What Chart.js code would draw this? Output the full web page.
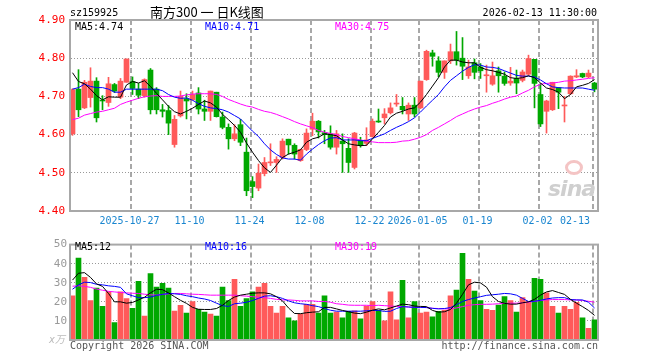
<!DOCTYPE html>
<html lang="zh-CN">
<head>
<meta charset="UTF-8">
<title>南方300 日K线图</title>
<script src="https://cdn.jsdelivr.net/npm/chart.js@4.4.1/dist/chart.umd.min.js"></script>
<style>
  * { margin: 0; padding: 0; }
  body { width: 660px; height: 360px; background: #fff; position: relative; overflow: hidden; font-family: 'DejaVu Sans Mono', monospace; }
  canvas { position: absolute; left: 0; }
  .t { position: absolute; font-size: 10px; line-height: 12px; white-space: nowrap; }
  .logo { position: absolute; left: 548px; top: 176px; font: italic bold 22px 'DejaVu Sans', sans-serif; color: #cfcfcf; letter-spacing: -1px; }
  .eye { position: absolute; left: 565px; top: 160px; width: 12px; height: 9px; border: 3px solid #f4c4c4; border-radius: 50%; }
</style>
</head>
<body>
<canvas id="kline" width="660" height="235" style="top:0"></canvas>
<canvas id="vol" width="660" height="125" style="top:235px"></canvas>

<div class="t" style="left:70px;top:7px;">sz159925</div>
<div class="t" style="left:150px;top:5px;font:13px/14px 'Noto Sans CJK SC',sans-serif;">南方300 一 日K线图</div>
<div class="t" style="right:63px;top:7px;">2026-02-13 11:30:00</div>
<div class="t" style="left:75px;top:21px;color:#000;">MA5:4.74</div>
<div class="t" style="left:205px;top:21px;color:#0000ff;">MA10:4.71</div>
<div class="t" style="left:335px;top:21px;color:#ff00ff;">MA30:4.75</div>
<div class="t" style="left:75px;top:241px;color:#000;">MA5:12</div>
<div class="t" style="left:205px;top:241px;color:#0000ff;">MA10:16</div>
<div class="t" style="left:335px;top:241px;color:#ff00ff;">MA30:19</div>
<div class="t" style="left:49px;top:334px;color:#bbb;font-style:italic;">x万</div>
<div class="t" style="left:70px;top:340px;color:#555;">Copyright 2026 SINA.COM</div>
<div class="t" style="right:62px;top:340px;color:#555;">http://finance.sina.com.cn</div>
<div class="eye"></div>
<div class="logo">sina</div>

<script>
// trading days shown (2025-10-13 .. 2026-02-13)
const dates = [
  '2025-10-13','2025-10-14','2025-10-15','2025-10-16','2025-10-17','2025-10-20','2025-10-21','2025-10-22','2025-10-23','2025-10-24',
  '2025-10-27','2025-10-28','2025-10-29','2025-10-30','2025-10-31','2025-11-03','2025-11-04','2025-11-05','2025-11-06','2025-11-07',
  '2025-11-10','2025-11-11','2025-11-12','2025-11-13','2025-11-14','2025-11-17','2025-11-18','2025-11-19','2025-11-20','2025-11-21',
  '2025-11-24','2025-11-25','2025-11-26','2025-11-27','2025-11-28','2025-12-01','2025-12-02','2025-12-03','2025-12-04','2025-12-05',
  '2025-12-08','2025-12-09','2025-12-10','2025-12-11','2025-12-12','2025-12-15','2025-12-16','2025-12-17','2025-12-18','2025-12-19',
  '2025-12-22','2025-12-23','2025-12-24','2025-12-25','2025-12-26','2025-12-29','2025-12-30','2025-12-31','2026-01-05','2026-01-06',
  '2026-01-07','2026-01-08','2026-01-09','2026-01-12','2026-01-13','2026-01-14','2026-01-15','2026-01-16','2026-01-19','2026-01-20',
  '2026-01-21','2026-01-22','2026-01-23','2026-01-26','2026-01-27','2026-01-28','2026-01-29','2026-01-30','2026-02-02','2026-02-03',
  '2026-02-04','2026-02-05','2026-02-06','2026-02-09','2026-02-10','2026-02-11','2026-02-12','2026-02-13'
];

const tickDates  = ['2025-10-27','2025-11-10','2025-11-24','2025-12-08','2025-12-22','2026-01-05','2026-01-19','2026-02-02','2026-02-13'];
const tickLabels = ['2025-10-27','11-10','11-24','12-08','12-22','2026-01-05','01-19','02-02','02-13'];

const open = [
  4.602,4.719,4.670,4.697,4.740,4.690,4.684,4.731,4.698,4.737,
  4.739,4.719,4.702,4.769,4.719,4.665,4.663,4.574,4.649,4.694,
  4.691,4.709,4.667,4.661,4.711,4.646,4.619,4.589,4.626,4.554,
  4.477,4.460,4.498,4.526,4.527,4.540,4.588,4.572,4.532,4.561,
  4.614,4.635,4.605,4.602,4.567,4.583,4.564,4.514,4.584,4.577,
  4.595,4.634,4.644,4.657,4.680,4.674,4.654,4.677,4.670,4.744,
  4.814,4.793,4.763,4.793,4.817,4.800,4.754,4.788,4.777,4.754,
  4.732,4.767,4.753,4.735,4.747,4.742,4.758,4.797,4.705,4.661,
  4.665,4.723,4.675,4.707,4.751,4.760,4.751,4.735
];
const high = [
  4.720,4.770,4.742,4.775,4.749,4.702,4.750,4.734,4.747,4.798,
  4.751,4.734,4.746,4.773,4.723,4.679,4.676,4.650,4.714,4.707,
  4.714,4.723,4.690,4.714,4.711,4.659,4.628,4.626,4.640,4.591,
  4.490,4.523,4.540,4.576,4.542,4.589,4.588,4.576,4.562,4.615,
  4.656,4.637,4.611,4.623,4.611,4.602,4.589,4.606,4.593,4.618,
  4.641,4.667,4.668,4.683,4.705,4.697,4.683,4.697,4.740,4.821,
  4.821,4.804,4.793,4.837,4.870,4.854,4.795,4.798,4.786,4.782,
  4.790,4.777,4.764,4.776,4.769,4.769,4.808,4.797,4.734,4.690,
  4.737,4.723,4.700,4.754,4.770,4.761,4.769,4.737
];
const low = [
  4.598,4.647,4.668,4.672,4.633,4.665,4.674,4.710,4.694,4.737,
  4.705,4.694,4.698,4.654,4.654,4.646,4.600,4.567,4.646,4.641,
  4.690,4.654,4.637,4.637,4.646,4.615,4.562,4.584,4.571,4.440,
  4.435,4.453,4.492,4.519,4.501,4.536,4.549,4.536,4.530,4.558,
  4.597,4.591,4.576,4.562,4.549,4.501,4.501,4.510,4.567,4.571,
  4.593,4.632,4.628,4.654,4.674,4.654,4.637,4.646,4.668,4.742,
  4.779,4.751,4.747,4.786,4.782,4.744,4.747,4.746,4.747,4.711,
  4.729,4.711,4.729,4.729,4.707,4.738,4.755,4.670,4.621,4.604,
  4.663,4.668,4.633,4.705,4.749,4.749,4.749,4.712
];
const close = [
  4.718,4.665,4.737,4.740,4.644,4.688,4.733,4.714,4.740,4.798,
  4.721,4.703,4.744,4.665,4.665,4.661,4.630,4.640,4.700,4.688,
  4.705,4.667,4.661,4.714,4.647,4.619,4.589,4.602,4.580,4.453,
  4.464,4.499,4.527,4.527,4.535,4.583,4.573,4.549,4.561,4.604,
  4.635,4.607,4.600,4.567,4.602,4.576,4.527,4.604,4.571,4.586,
  4.635,4.633,4.654,4.670,4.682,4.665,4.677,4.654,4.740,4.818,
  4.805,4.763,4.793,4.817,4.795,4.779,4.777,4.763,4.767,4.756,
  4.754,4.754,4.734,4.740,4.735,4.764,4.799,4.734,4.628,4.688,
  4.737,4.711,4.676,4.753,4.754,4.751,4.761,4.719
];

// moving averages as drawn on the picture
const ma5 = [
  4.762,4.739,4.733,4.719,4.702,4.691,4.699,4.698,4.698,4.730,
  4.739,4.735,4.741,4.726,4.708,4.691,4.674,4.660,4.654,4.661,
  4.669,4.679,4.688,4.683,4.672,4.653,4.639,4.624,4.606,4.578,
  4.554,4.532,4.513,4.501,4.520,4.540,4.549,4.554,4.560,4.580,
  4.589,4.593,4.602,4.600,4.597,4.586,4.576,4.573,4.571,4.572,
  4.589,4.606,4.624,4.646,4.656,4.661,4.667,4.670,4.685,4.705,
  4.727,4.749,4.777,4.795,4.795,4.790,4.788,4.788,4.776,4.770,
  4.767,4.763,4.758,4.749,4.747,4.749,4.754,4.749,4.735,4.722,
  4.718,4.711,4.694,4.705,4.725,4.729,4.734,4.744
];
const ma10 = [
  4.719,4.723,4.732,4.726,4.723,4.723,4.719,4.711,4.711,4.719,
  4.719,4.719,4.719,4.719,4.719,4.715,4.705,4.698,4.695,4.696,
  4.690,4.681,4.674,4.670,4.668,4.665,4.659,4.650,4.641,4.625,
  4.609,4.595,4.576,4.560,4.548,4.539,4.536,4.536,4.533,4.549,
  4.562,4.574,4.584,4.591,4.592,4.586,4.586,4.586,4.584,4.584,
  4.590,4.596,4.602,4.611,4.619,4.626,4.634,4.644,4.659,4.675,
  4.690,4.705,4.725,4.742,4.754,4.766,4.776,4.783,4.782,4.777,
  4.776,4.773,4.767,4.761,4.755,4.753,4.753,4.751,4.743,4.733,
  4.725,4.723,4.722,4.722,4.722,4.722,4.719,4.716
];
const ma30 = [
  4.639,4.643,4.651,4.655,4.659,4.661,4.665,4.669,4.679,4.685,
  4.690,4.695,4.699,4.701,4.702,4.700,4.700,4.700,4.701,4.704,
  4.706,4.707,4.707,4.707,4.705,4.700,4.692,4.686,4.680,4.675,
  4.672,4.666,4.661,4.658,4.653,4.647,4.641,4.634,4.628,4.623,
  4.618,4.611,4.606,4.603,4.600,4.595,4.592,4.589,4.586,4.583,
  4.581,4.579,4.579,4.579,4.580,4.583,4.584,4.588,4.593,4.600,
  4.611,4.619,4.628,4.637,4.647,4.654,4.661,4.667,4.672,4.676,
  4.682,4.687,4.693,4.698,4.701,4.709,4.716,4.725,4.732,4.734,
  4.735,4.737,4.740,4.741,4.743,4.745,4.747,4.749
];

// volume (x万)
const vol = [
  23.2,43.0,32.8,20.7,27.2,17.6,25.2,9.1,25.2,21.7,
  16.6,30.8,12.6,34.8,27.7,29.7,27.2,15.1,18.2,14.1,
  20.2,16.1,14.6,13.6,12.6,27.7,20.7,31.8,17.6,21.7,
  25.2,27.7,29.7,17.6,14.1,17.6,11.6,10.1,13.6,18.7,
  18.7,14.1,23.2,14.1,14.6,11.6,15.0,15.3,11.1,17.8,
  20.2,15.6,10.1,25.2,10.6,31.3,11.6,20.2,14.1,14.6,
  12.1,15.0,15.5,23.2,26.2,45.4,31.8,25.7,20.7,16.1,
  15.6,18.3,22.7,20.7,14.6,22.2,20.2,32.3,31.8,24.7,
  17.6,14.1,17.6,16.1,19.7,11.6,6.1,10.6
];
const volMa5 = [
  31.4,35.0,35.3,32.8,29.4,28.1,24.4,20.0,20.0,19.3,
  19.7,21.0,22.4,24.7,26.6,26.4,24.7,22.7,20.8,19.2,
  17.1,16.1,16.0,16.0,16.5,18.2,20.7,22.5,23.5,24.0,
  24.5,24.7,24.7,24.2,22.7,20.5,16.8,13.9,13.8,14.3,
  14.6,14.8,17.1,17.1,16.3,15.5,14.8,14.1,13.8,14.6,
  15.6,16.3,15.8,16.8,17.8,18.8,18.5,17.8,17.6,17.5,
  15.5,14.6,14.8,16.0,19.3,23.9,28.9,30.3,29.9,27.7,
  22.7,20.2,19.2,18.8,18.8,19.5,20.0,21.3,23.5,25.2,
  25.9,24.9,23.9,21.3,19.3,17.5,15.5,12.9
];
const volMa10 = [
  26.6,28.9,30.3,30.1,29.2,28.9,28.4,28.1,27.6,24.2,
  23.2,22.2,22.2,22.5,23.4,23.9,24.4,24.2,23.9,23.2,
  22.7,22.0,21.5,20.7,19.3,18.0,17.6,19.0,19.3,19.8,
  20.7,21.8,23.0,23.2,22.7,21.8,20.5,19.5,19.0,18.7,
  18.0,17.5,16.5,15.6,15.1,15.1,15.1,15.1,15.1,15.3,
  15.5,15.5,15.0,15.1,16.5,17.5,17.3,17.1,17.1,17.0,
  16.6,16.3,16.5,17.0,18.5,20.2,21.2,22.0,22.7,23.4,
  23.7,24.0,24.4,24.2,23.5,21.8,20.2,20.3,20.8,21.5,
  22.0,22.2,22.2,21.2,21.0,21.0,19.8,16.8
];
const volMa30 = [
  28.2,28.4,28.1,27.6,26.7,26.1,25.5,25.2,24.9,24.7,
  24.5,24.4,24.0,23.7,23.5,23.9,24.2,24.4,24.4,24.2,
  24.0,23.9,23.7,23.5,23.5,23.5,23.5,23.5,23.2,23.0,
  22.7,22.4,22.2,21.8,21.3,21.0,21.0,20.8,20.5,20.5,
  20.5,20.2,20.2,19.8,19.0,18.7,18.3,18.2,18.2,18.2,
  18.0,18.2,18.0,17.8,17.6,17.5,17.3,17.1,17.1,17.0,
  16.6,16.5,16.3,16.3,16.8,17.5,18.2,18.5,18.7,18.7,
  18.8,19.0,19.2,19.3,19.3,19.5,19.8,20.2,20.7,21.0,
  21.2,21.2,21.2,21.0,21.0,20.7,20.3,19.8
];

const RED = '#ff5a5a';
const GREEN = '#00a800';
const GRID = '#a8a8a8';
const DOTS = '#999999';
const FRAME = '#a8a8a8';
const MONO = 'DejaVu Sans Mono';

const upColors = close.map((c, i) => (c >= open[i] ? RED : GREEN));
const tickIdx = tickDates.map(d => dates.indexOf(d));

// x runs over bar index; 6px per bar, bar centre sits 2.5px into its slot
const X_MIN = -5 / 12;
const X_MAX = dates.length - 5 / 12;

const pts = arr => arr.map((v, i) => ({ x: i, y: v }));
const maLine = (label, arr, color) => ({
  type: 'line', label, data: pts(arr), borderColor: color, borderWidth: 1,
  pointRadius: 0, tension: 0, order: 0,
});

// dashed date lines + dotted value lines, placed from the chart's own scales
const gridLines = {
  id: 'gridLines',
  beforeDatasetsDraw(chart) {
    const ctx = chart.ctx;
    const a = chart.chartArea;
    const xs = chart.scales.x;
    const ys = chart.scales.y;
    ctx.save();
    ctx.strokeStyle = GRID;
    ctx.lineWidth = 2;
    ctx.setLineDash([5, 3]);
    for (const i of tickIdx) {
      const px = Math.round(xs.getPixelForValue(i - 1 / 3));
      ctx.beginPath();
      ctx.moveTo(px, a.top);
      ctx.lineTo(px, a.bottom);
      ctx.stroke();
    }
    // dotted value lines, one pixel per dot
    ctx.fillStyle = DOTS;
    for (const t of ys.ticks) {
      if (t.value <= ys.min + 1e-6 || t.value >= ys.max - 1e-6) continue;
      const py = Math.floor(ys.getPixelForValue(t.value));
      for (let px = a.left + 1; px < a.right - 1; px += 3) ctx.fillRect(px, py, 1, 1);
    }
    ctx.restore();
  },
};

// grey frame round the plot area
const frame = {
  id: 'frame',
  afterDraw(chart) {
    const a = chart.chartArea, ctx = chart.ctx;
    ctx.save();
    ctx.strokeStyle = FRAME;
    ctx.lineWidth = 2;
    ctx.strokeRect(a.left, a.top, a.right - a.left, a.bottom - a.top);
    ctx.restore();
  },
};

function hiddenX(height) {
  return {
    type: 'linear', min: X_MIN, max: X_MAX, offset: false,
    afterFit: s => { s.height = height; },
    ticks: { display: false },
    grid: { display: false, drawTicks: false },
    border: { display: false },
  };
}

new Chart(document.getElementById('kline'), {
  type: 'bar',
  data: {
    datasets: [
      maLine('MA5', ma5, '#000000'),
      maLine('MA10', ma10, '#0000ff'),
      maLine('MA30', ma30, '#ff00ff'),
      {
        label: 'body', data: open.map((o, i) => ({ x: i, y: [o, close[i]] })),
        backgroundColor: upColors, barThickness: 5, minBarLength: 1, grouped: false, order: 1,
      },
      {
        label: 'wick', data: low.map((l, i) => ({ x: i, y: [l, high[i]] })),
        backgroundColor: upColors, barThickness: 1, grouped: false, order: 2,
      },
    ],
  },
  options: {
    responsive: false, animation: false, events: [],
    layout: { padding: { left: 0, right: 62, top: 20, bottom: 0 } },
    plugins: { legend: { display: false }, tooltip: { enabled: false } },
    scales: {
      x: hiddenX(0),
      xl: {
        type: 'linear', position: 'bottom', min: X_MIN, max: X_MAX, offset: false,
        afterBuildTicks: s => {
          s.ticks = tickIdx.map((i, k) => {
            const half = tickLabels[k].length * 3;
            return { value: Math.min(i - 0.5, X_MAX - (half + 8) / 6) };
          });
        },
        afterFit: s => { s.height = 24; },
        grid: { display: false, drawTicks: false },
        border: { display: false },
        ticks: {
          autoSkip: false, maxRotation: 0, padding: 4, color: '#1a86d0',
          font: { family: MONO, size: 10 },
          callback: (v, k) => tickLabels[k],
        },
      },
      y: {
        min: 4.4, max: 4.9,
        afterFit: s => { s.width = 70; },
        ticks: {
          stepSize: 0.1, padding: 5, color: '#ff0000',
          font: { family: MONO, size: 11 },
          callback: v => v.toFixed(2),
        },
        grid: { display: false, drawTicks: false },
        border: { display: false },
      },
    },
  },
  plugins: [gridLines, frame],
});

new Chart(document.getElementById('vol'), {
  type: 'bar',
  data: {
    datasets: [
      maLine('MA5', volMa5, '#000000'),
      maLine('MA10', volMa10, '#0000ff'),
      maLine('MA30', volMa30, '#ff00ff'),
      {
        label: 'vol', data: pts(vol),
        backgroundColor: upColors, barThickness: 5, grouped: false, order: 1,
      },
    ],
  },
  options: {
    responsive: false, animation: false, events: [],
    layout: { padding: { left: 0, right: 62, top: 5, bottom: 0 } },
    plugins: { legend: { display: false }, tooltip: { enabled: false } },
    scales: {
      x: hiddenX(20),
      y: {
        min: 0, max: 50,
        afterFit: s => { s.width = 70; },
        ticks: {
          stepSize: 10, padding: 3, color: '#999999',
          font: { family: MONO, size: 11 },
          callback: v => (v === 0 ? '' : v),
        },
        grid: { display: false, drawTicks: false },
        border: { display: false },
      },
    },
  },
  plugins: [gridLines, frame],
});
</script>
</body>
</html>
